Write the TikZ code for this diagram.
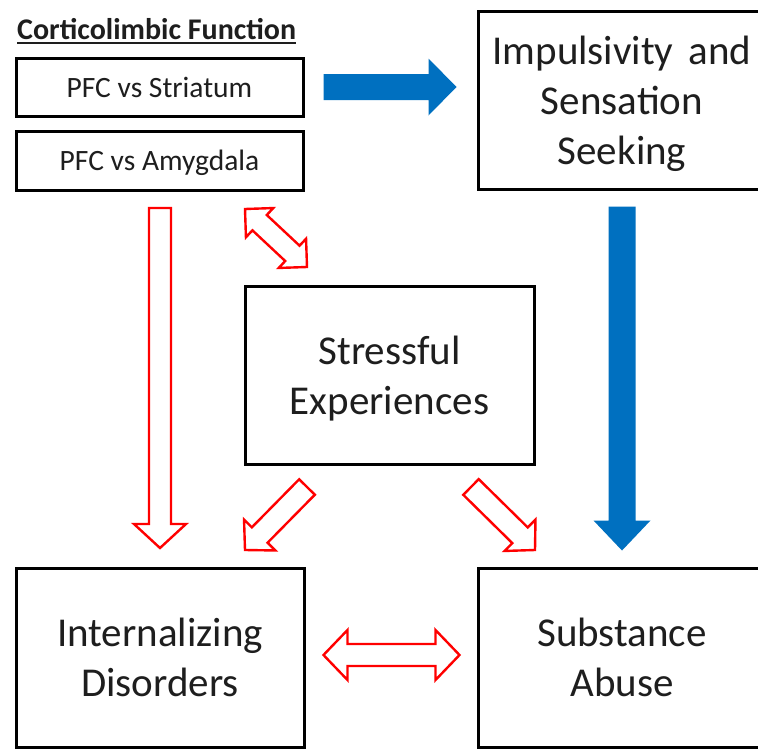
\documentclass[tikz,border=0pt]{standalone}
\usepackage{fontspec}
\setmainfont{Carlito}
\usetikzlibrary{calc}
\definecolor{arrblue}{RGB}{0,112,192}
\definecolor{arrred}{RGB}{255,0,0}
\definecolor{txt}{RGB}{30,30,30}
\tikzset{
  box/.style={draw=black, line width=3pt, rectangle, inner sep=0pt, align=center, text=txt, text depth=0pt},
  bigtext/.style={font=\fontsize{41}{50}\selectfont},
  smalltext/.style={font=\fontsize{29.5}{34}\selectfont},
  redblk/.style={draw=arrred, line width=2.4pt, fill=white, line join=miter},
  blueblk/.style={fill=arrblue, draw=none},
  oneway/.style n args={3}{to path={
    ($(\tikztotarget)!#2!(\tikztostart)$) coordinate (bac)
    ($(\tikztostart)!#1!90:(\tikztotarget)$) -- ($(bac)!#1!-90:(\tikztostart)$)
    -- ($(bac)!#3!-90:(\tikztostart)$) -- (\tikztotarget)
    -- ($(bac)!#3!90:(\tikztostart)$) -- ($(bac)!#1!90:(\tikztostart)$)
    -- ($(\tikztostart)!#1!-90:(\tikztotarget)$) -- cycle}},
  twoway/.style n args={3}{to path={
    ($(\tikztotarget)!#2!(\tikztostart)$) coordinate (bac)
    ($(\tikztostart)!#2!(\tikztotarget)$) coordinate (bad)
    (\tikztostart) -- ($(bad)!#3!90:(\tikztotarget)$) -- ($(bad)!#1!90:(\tikztotarget)$)
    -- ($(bac)!#1!-90:(\tikztostart)$) -- ($(bac)!#3!-90:(\tikztostart)$) -- (\tikztotarget)
    -- ($(bac)!#3!90:(\tikztostart)$) -- ($(bac)!#1!90:(\tikztostart)$)
    -- ($(bad)!#1!-90:(\tikztotarget)$) -- ($(bad)!#3!-90:(\tikztotarget)$) -- cycle}},
}
\begin{document}
\begin{tikzpicture}[x=1pt,y=-1pt]
\clip (0,0) rectangle (758,750);
\fill[white] (0,0) rectangle (758,750);

% title
\node[anchor=base west, inner sep=0pt, text=txt, font=\fontsize{30}{34}\selectfont\bfseries] (title) at (17,39) {Corticolimbic Function};
\draw[txt, line width=2pt] ([yshift=-4pt]title.base west) -- ([yshift=-4pt]title.base east);

% boxes
\node[box, smalltext, minimum width=287pt, minimum height=58pt] (pfcS) at (159.5,87) {PFC vs Striatum};
\node[box, smalltext, minimum width=287pt, minimum height=59pt] (pfcA) at (159.5,160.5) {PFC vs Amygdala};
\node[box, bigtext, minimum width=288pt, minimum height=178pt] (imp) at (622,100) {Impulsivity\hspace{6pt} and\\Sensation\\Seeking};
\node[box, bigtext, minimum width=289pt, minimum height=178pt] (str) at (389.5,375) {Stressful\\Experiences};
\node[box, bigtext, minimum width=288pt, minimum height=179pt] (int) at (160,657.5) {Internalizing\\Disorders};
\node[box, bigtext, minimum width=288pt, minimum height=179pt] (sub) at (622,657.5) {Substance\\Abuse};

% arrow end points
\coordinate (b1s) at ($(pfcS.east)+(19,0)$);
\coordinate (b1e) at ($(imp.west |- pfcS.east)+(-20,0)$);
\coordinate (b2s) at ($(imp.south)+(0,16)$);
\coordinate (b2e) at ($(sub.north)+(0,-16)$);
\coordinate (r1s) at (160,208);
\coordinate (r1e) at (160,548);
\coordinate (r2s) at (245,209);
\coordinate (r2e) at (307,267);
\coordinate (r3s) at (307,487);
\coordinate (r3e) at (245,550);
\coordinate (r4s) at (471,487);
\coordinate (r4e) at (535,550);
\coordinate (r5s) at ($(int.east |- int.center)+(18,-2.5)$);
\coordinate (r5e) at ($(sub.west |- sub.center)+(-17,-2.5)$);

% blue arrows
\draw[blueblk, oneway={13pt}{28pt}{28.5pt}] (b1s) to (b1e);
\draw[blueblk, oneway={13.5pt}{30pt}{28.5pt}] (b2s) to (b2e);

% red arrows
\draw[redblk, oneway={11pt}{24pt}{26pt}] (r1s) to (r1e);
\draw[redblk, twoway={10.5pt}{20pt}{20pt}] (r2s) to (r2e);
\draw[redblk, oneway={11pt}{21pt}{22pt}] (r3s) to (r3e);
\draw[redblk, oneway={11pt}{21pt}{22pt}] (r4s) to (r4e);
\draw[redblk, twoway={11pt}{24pt}{25pt}] (r5s) to (r5e);
\end{tikzpicture}
\end{document}
